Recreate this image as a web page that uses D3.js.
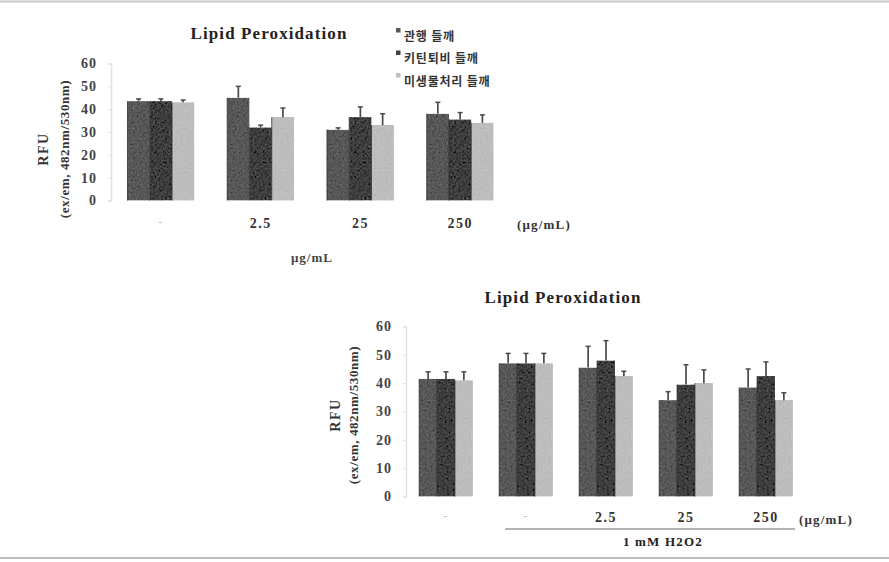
<!DOCTYPE html>
<html>
<head>
<meta charset="utf-8">
<script src="https://cdn.jsdelivr.net/npm/d3@7"></script>
<style>
  html, body { margin: 0; padding: 0; background: #fff; }
  svg { display: block; }
</style>
</head>
<body>
<svg id="chart" width="889" height="562"></svg>
<script>
// ---- Lipid peroxidation, sample only ----
const topCategories = ["-", "2.5", "25", "250"];
const topConventional    = [43.5, 45, 31, 38];
const topChitin          = [43.5, 32, 36.5, 35.5];
const topMicrobe         = [43, 36.5, 33, 34];
const topConventionalErr = [1, 5, 0.8, 5];
const topChitinErr       = [1, 1, 4.5, 3];
const topMicrobeErr      = [1, 4, 5, 3.5];

// ---- Lipid peroxidation, sample + 1 mM H2O2 ----
const bottomCategories = ["-", "-", "2.5", "25", "250"];
const bottomConventional    = [41.5, 47, 45.5, 34, 38.5];
const bottomChitin          = [41.5, 47, 48, 39.5, 42.5];
const bottomMicrobe         = [41, 47, 42.5, 40, 34];
const bottomConventionalErr = [2.5, 3.5, 7.5, 3, 6.5];
const bottomChitinErr       = [2.5, 3.5, 7, 7, 5];
const bottomMicrobeErr      = [3, 3.5, 1.7, 4.7, 2.6];

const seriesNames = ["관행 들깨", "키틴퇴비 들깨", "미생물처리 들깨"];
const yTicks = [0, 10, 20, 30, 40, 50, 60];

const colors = ["#585858", "#3e3e3e", "#bdbdbd"];
const SERIF = '"Liberation Serif", "Times New Roman", serif';

const svg = d3.select("#chart");

// grain texture for the bars
const defs = svg.append("defs");
const f = defs.append("filter").attr("id", "grain")
  .attr("x", 0).attr("y", 0).attr("width", 1).attr("height", 1);
f.append("feTurbulence").attr("type", "fractalNoise").attr("baseFrequency", 0.5)
  .attr("numOctaves", 2).attr("seed", 7).attr("result", "noise");
f.append("feColorMatrix").attr("in", "noise").attr("type", "matrix")
  .attr("values", "0.33 0.33 0.33 0 0  0.33 0.33 0.33 0 0  0.33 0.33 0.33 0 0  0 0 0 0 1")
  .attr("result", "gray");
f.append("feComposite").attr("in", "SourceGraphic").attr("in2", "gray")
  .attr("operator", "arithmetic").attr("k1", 0).attr("k2", 1).attr("k3", 0.28).attr("k4", -0.14)
  .attr("result", "mix");
f.append("feComposite").attr("in", "mix").attr("in2", "SourceGraphic").attr("operator", "in");

// page rules
svg.append("line").attr("x1", 0).attr("x2", 889).attr("y1", 1.5).attr("y2", 1.5)
  .attr("stroke", "#c8c8c8").attr("stroke-width", 2);
svg.append("line").attr("x1", 0).attr("x2", 889).attr("y1", 558).attr("y2", 558)
  .attr("stroke", "#a8a8a8").attr("stroke-width", 1.5);

function drawPanel(cfg) {
  const g = svg.append("g");
  const y = d3.scaleLinear().domain([0, 60]).range([cfg.y0, cfg.y60]);
  const idx = cfg.categories.map((_, i) => i);
  const x = d3.scaleBand().domain(idx).range(cfg.xRange)
    .paddingInner(0.33).paddingOuter(0.165);
  const xs = d3.scaleBand().domain([0, 1, 2]).range([0, x.bandwidth()]);

  // y axis
  const yAxis = g.append("g").attr("transform", `translate(${cfg.xRange[0]},0)`)
    .call(d3.axisLeft(y).tickValues(yTicks).tickSize(3).tickPadding(11));
  yAxis.select(".domain").attr("stroke", "#e2e2e2").attr("stroke-width", 1.5);
  yAxis.selectAll(".tick line").attr("stroke", "#e2e2e2");
  yAxis.selectAll("text").attr("font-family", SERIF).attr("font-weight", "bold")
    .attr("font-size", 14).attr("fill", "#444").attr("letter-spacing", 1);

  // x axis labels
  const xAxis = g.append("g").attr("transform", `translate(0,${cfg.y0})`)
    .call(d3.axisBottom(x).tickSize(0).tickPadding(cfg.xPad)
      .tickFormat(i => cfg.categories[i]));
  xAxis.select(".domain").remove();
  xAxis.selectAll("text").attr("font-family", SERIF).attr("font-weight", "bold")
    .attr("font-size", d => cfg.categories[d] === "-" ? 9 : 14)
    .attr("fill", d => cfg.categories[d] === "-" ? "#999" : "#333")
    .attr("letter-spacing", 1.5);

  // bars
  const groups = g.append("g").selectAll("g").data(idx).join("g")
    .attr("transform", i => `translate(${x(i)},0)`);
  const cells = groups.selectAll("g").data(i => cfg.series.map((s, k) => ({
    k, v: s[i], e: cfg.errors[k][i]
  }))).join("g");
  cells.append("rect")
    .attr("x", d => xs(d.k)).attr("width", xs.bandwidth())
    .attr("y", d => y(d.v)).attr("height", d => y(0) - y(d.v))
    .attr("fill", d => colors[d.k]).attr("filter", "url(#grain)");
  cells.append("line")
    .attr("x1", d => xs(d.k)).attr("x2", d => xs(d.k))
    .attr("y1", d => y(d.v)).attr("y2", y(0))
    .attr("stroke", "#2a2a2a").attr("stroke-width", 0.8);
  // error bars
  const cx = d => xs(d.k) + xs.bandwidth() / 2;
  cells.append("line")
    .attr("x1", cx).attr("x2", cx)
    .attr("y1", d => y(d.v)).attr("y2", d => y(d.v + d.e))
    .attr("stroke", "#4a4a4a").attr("stroke-width", 1.7);
  cells.append("line")
    .attr("x1", d => cx(d) - 2.5).attr("x2", d => cx(d) + 2.5)
    .attr("y1", d => y(d.v + d.e)).attr("y2", d => y(d.v + d.e))
    .attr("stroke", "#4a4a4a").attr("stroke-width", 1.5);

  // title
  svg.append("text").attr("x", cfg.titleX).attr("y", cfg.titleY)
    .attr("text-anchor", "middle").attr("font-family", SERIF).attr("font-weight", "bold")
    .attr("font-size", 17).attr("letter-spacing", 1.1).attr("fill", "#222")
    .text("Lipid Peroxidation");

  // y axis title
  svg.append("text")
    .attr("transform", `translate(${cfg.rfuX},${cfg.yTitleY}) rotate(-90)`)
    .attr("text-anchor", "middle").attr("dominant-baseline", "central")
    .attr("font-family", SERIF).attr("font-weight", "bold").attr("font-size", 14)
    .attr("letter-spacing", 1.5).attr("fill", "#333").text("RFU");
  svg.append("text")
    .attr("transform", `translate(${cfg.exX},${cfg.yTitleY}) rotate(-90)`)
    .attr("text-anchor", "middle").attr("dominant-baseline", "central")
    .attr("font-family", SERIF).attr("font-weight", "bold").attr("font-size", 13)
    .attr("letter-spacing", 0.6).attr("fill", "#333").text("(ex/em, 482nm/530nm)");

  // unit label
  svg.append("text").attr("x", cfg.unitX).attr("y", cfg.unitY)
    .attr("text-anchor", "middle").attr("font-family", SERIF).attr("font-weight", "bold")
    .attr("font-size", 13).attr("letter-spacing", 1.2).attr("fill", "#333")
    .text("(μg/mL)");
  return { x, y };
}

drawPanel({
  categories: topCategories,
  series: [topConventional, topChitin, topMicrobe],
  errors: [topConventionalErr, topChitinErr, topMicrobeErr],
  y0: 200.5, y60: 63.5, xRange: [111, 510], xPad: 18,
  titleX: 269, titleY: 39,
  rfuX: 43, exX: 64, yTitleY: 149,
  unitX: 544, unitY: 229
});

drawPanel({
  categories: bottomCategories,
  series: [bottomConventional, bottomChitin, bottomMicrobe],
  errors: [bottomConventionalErr, bottomChitinErr, bottomMicrobeErr],
  y0: 496.5, y60: 326.5, xRange: [406, 806], xPad: 16,
  titleX: 563, titleY: 303,
  rfuX: 335, exX: 353, yTitleY: 415,
  unitX: 826, unitY: 524
});

// concentration unit under the upper panel
svg.append("text").attr("x", 312).attr("y", 262).attr("text-anchor", "middle")
  .attr("font-family", SERIF).attr("font-weight", "bold").attr("font-size", 13)
  .attr("letter-spacing", 1).attr("fill", "#444").text("μg/mL");

// H2O2 treatment bracket
svg.append("line").attr("x1", 505).attr("x2", 795).attr("y1", 529).attr("y2", 529)
  .attr("stroke", "#9a9a9a").attr("stroke-width", 1.5);
svg.append("text").attr("x", 663).attr("y", 546).attr("text-anchor", "middle")
  .attr("font-family", SERIF).attr("font-weight", "bold").attr("font-size", 13)
  .attr("letter-spacing", 1.2).attr("fill", "#222").text("1 mM H2O2");

// legend
const legend = svg.append("g").attr("transform", "translate(396,28)");
const items = legend.selectAll("g").data(seriesNames).join("g")
  .attr("transform", (d, i) => `translate(0,${i * 22.5})`);
items.append("rect").attr("x", 0).attr("y", 0).attr("width", 4.5).attr("height", 4.5)
  .attr("fill", (d, i) => colors[i]);
items.append("text").attr("x", 8).attr("y", 7).attr("dominant-baseline", "central")
  .attr("font-family", '"Noto Sans CJK KR", "Noto Sans", sans-serif').attr("font-weight", "bold")
  .attr("font-size", 12).attr("letter-spacing", 0.8).attr("fill", "#333")
  .text(d => d);
</script>
</body>
</html>
